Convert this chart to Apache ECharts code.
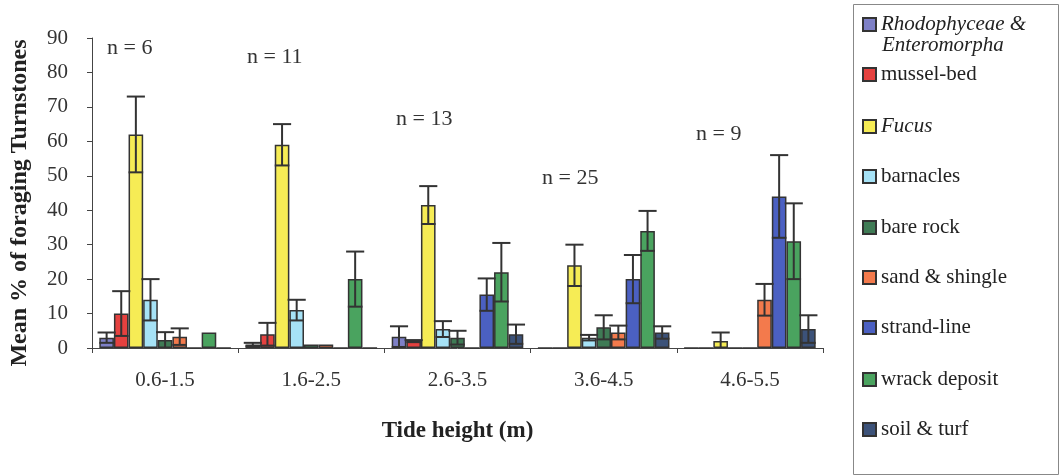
<!DOCTYPE html>
<html>
<head>
<meta charset="utf-8">
<script src="https://cdn.jsdelivr.net/npm/echarts@6/dist/echarts.min.js"></script>
<style>html,body{margin:0;padding:0;background:#fff;}#c{width:1059px;height:476px;}</style>
</head>
<body>
<div id="c"></div>
<script>
var categories = ['0.6-1.5', '1.6-2.5', '2.6-3.5', '3.6-4.5', '4.6-5.5'];
var seriesNames = ['Rhodophyceae & Enteromorpha', 'mussel-bed', 'Fucus', 'barnacles', 'bare rock', 'sand & shingle', 'strand-line', 'wrack deposit', 'soil & turf'];
var nLabels = ['n = 6', 'n = 11', 'n = 13', 'n = 25', 'n = 9'];
var yTicks = [0, 10, 20, 30, 40, 50, 60, 70, 80, 90];

// means per habitat, one value per tide-height category
var rhodoMean    = [3, 1, 3.3, 0, 0];
var musselMean   = [10, 4, 2, 0, 0];
var fucusMean    = [62, 59, 41.5, 24, 2];
var barnacleMean = [14, 11, 5.5, 3, 0];
var bareRockMean = [2.3, 1, 3, 6, 0];
var sandMean     = [3.3, 1, 0, 4.5, 14];
var strandMean   = [0, 0, 15.5, 20, 44];
var wrackMean    = [4.5, 20, 22, 34, 31];
var soilMean     = [0, 0, 4, 4.5, 5.5];

// error (half-length of error bar)
var rhodoErr    = [1.5, 0.5, 3, 0, 0];
var musselErr   = [6.5, 3.3, 0.3, 0, 0];
var fucusErr    = [11, 6, 5.5, 6, 2.5];
var barnacleErr = [6, 3, 2.3, 0.8, 0];
var bareRockErr = [2.3, 0, 2, 3.5, 0];
var sandErr     = [2.4, 0, 0, 2, 4.6];
var strandErr   = [0, 0, 4.7, 7, 12];
var wrackErr    = [0, 8, 8.5, 5.8, 11];
var soilErr     = [0, 0, 2.8, 1.8, 4];

var means = [rhodoMean, musselMean, fucusMean, barnacleMean, bareRockMean, sandMean, strandMean, wrackMean, soilMean];
var errs = [rhodoErr, musselErr, fucusErr, barnacleErr, bareRockErr, sandErr, strandErr, wrackErr, soilErr];
var colors = ['#7e80c6', '#e5413f', '#f6ec55', '#a6e2f6', '#3f7b55', '#f37a4c', '#4b60c2', '#4aa35f', '#3c5279'];

var FONT = '"Liberation Serif", "DejaVu Serif", serif';
var CATGAP = 0.1;
var NS = seriesNames.length;

var series = [];
for (var s = 0; s < NS; s++) {
  series.push({
    name: seriesNames[s],
    type: 'bar',
    data: means[s],
    barGap: '0%',
    barCategoryGap: (CATGAP * 100) + '%',
    itemStyle: { color: colors[s], borderColor: '#333', borderWidth: 1.5 },
    emphasis: { disabled: true },
    animation: false
  });
}

var errData = [];
for (var s2 = 0; s2 < NS; s2++) {
  for (var c = 0; c < categories.length; c++) {
    if (errs[s2][c] > 0) errData.push([c, means[s2][c], errs[s2][c], s2]);
  }
}

series.push({
  type: 'custom',
  name: 'err',
  data: errData,
  encode: { x: 0, y: 1 },
  z: 10,
  silent: true,
  animation: false,
  renderItem: function (params, api) {
    var cat = api.value(0), v = api.value(1), e = api.value(2), si = api.value(3);
    var band = api.size([1, 0])[0];
    var bw = band * (1 - CATGAP) / NS;
    var center = api.coord([cat, v])[0];
    var x = center - band * (1 - CATGAP) / 2 + (si + 0.5) * bw;
    var hi = api.coord([cat, v + e])[1];
    var lo = api.coord([cat, Math.max(v - e, 0)])[1];
    var half = bw * 0.62;
    var st = { stroke: '#333', lineWidth: 2 };
    var children = [
      { type: 'line', shape: { x1: x, y1: hi, x2: x, y2: lo }, style: st },
      { type: 'line', shape: { x1: x - half, y1: hi, x2: x + half, y2: hi }, style: st }
    ];
    if (v - e > 0) {
      children.push({ type: 'line', shape: { x1: x - bw / 2, y1: lo, x2: x + bw / 2, y2: lo }, style: st });
    }
    return { type: 'group', children: children };
  }
});

// legend, one component per item
var legendCenters = [20, 70, 122, 172, 223, 273, 323, 375, 425];
var legends = [];
for (var l = 0; l < NS; l++) {
  var italic = (l === 0 || l === 2);
  legends.push({
    data: [seriesNames[l]],
    left: 857,
    top: legendCenters[l] - 11,
    orient: 'vertical',
    itemWidth: 13,
    itemHeight: 13,
    icon: 'rect',
    selectedMode: false,
    formatter: l === 0 ? function () { return 'Rhodophyceae &'; } : undefined,
    textStyle: { fontFamily: FONT, fontSize: 21, color: '#222', fontStyle: italic ? 'italic' : 'normal' }
  });
}

var nPos = [[107, 49], [247, 58], [396, 120], [542, 179], [696, 135]];
var graphics = [
  { type: 'rect', left: 851, top: 2, shape: { width: 205, height: 470 }, style: { fill: 'none', stroke: '#888', lineWidth: 1 }, silent: true },
  { type: 'text', left: 882, top: 35, style: { text: 'Enteromorpha', font: 'italic 21px ' + FONT, fill: '#222' }, silent: true }
];
for (var k = 0; k < nLabels.length; k++) {
  graphics.push({ type: 'text', left: nPos[k][0], top: nPos[k][1] - 12, style: { text: nLabels[k], font: '22px ' + FONT, fill: '#333' }, silent: true });
}

var chart = echarts.init(document.getElementById('c'), null, { renderer: 'canvas' });
chart.setOption({
  backgroundColor: '#fff',
  animation: false,
  grid: { left: 87, right: 236, top: 38, bottom: 128, containLabel: false },
  legend: legends,
  graphic: graphics,
  xAxis: {
    type: 'category',
    data: categories,
    boundaryGap: true,
    name: 'Tide height (m)',
    nameLocation: 'middle',
    nameGap: 72,
    nameTextStyle: { fontFamily: FONT, fontSize: 23, fontWeight: 'bold', color: '#222' },
    axisLine: { lineStyle: { color: '#444', width: 1 } },
    axisTick: { show: true, alignWithLabel: false, length: 5, lineStyle: { color: '#444' } },
    axisLabel: { fontFamily: FONT, fontSize: 21, color: '#333', margin: 22 },
    splitLine: { show: false }
  },
  yAxis: {
    type: 'value',
    min: yTicks[0],
    max: yTicks[yTicks.length - 1],
    interval: 10,
    name: 'Mean % of foraging Turnstones',
    nameLocation: 'middle',
    nameRotate: 90,
    nameGap: 60,
    nameTextStyle: { fontFamily: FONT, fontSize: 24, fontWeight: 'bold', color: '#222', padding: [0, 20, 0, 0] },
    axisLine: { show: true, lineStyle: { color: '#444', width: 1 } },
    axisTick: { show: true, length: 5, lineStyle: { color: '#444' } },
    axisLabel: { fontFamily: FONT, fontSize: 21, color: '#333', margin: 24 },
    splitLine: { show: false }
  },
  series: series
});
</script>
</body>
</html>
